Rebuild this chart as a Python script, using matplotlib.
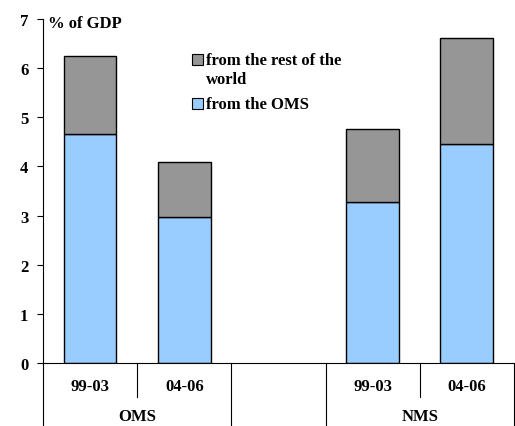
import matplotlib
matplotlib.use("Agg")
import matplotlib.pyplot as plt
from matplotlib.patches import Rectangle

periods = ["99-03", "04-06", "", "99-03", "04-06"]
groups = ["OMS", "NMS"]
from_oms = [4.66, 2.98, None, 3.28, 4.45]
from_rest = [1.59, 1.10, None, 1.48, 2.17]
yticks = [0, 1, 2, 3, 4, 5, 6, 7]
legend_labels = ["from the rest of the", "world", "from the OMS"]

blue = "#99CCFF"
gray = "#969696"
font = "Liberation Serif"
plt.rcParams["font.family"] = [font, "DejaVu Serif"]
plt.rcParams["font.weight"] = "bold"
fs = 12

fig = plt.figure(figsize=(5.15, 4.27), dpi=100)
ax = fig.add_axes([43 / 515, 1 - 364 / 427, 1 - 43 / 515 - 0.002, (364 - 20) / 427])

xs = [i for i, v in enumerate(from_oms) if v is not None]
b1 = [from_oms[i] for i in xs]
b2 = [from_rest[i] for i in xs]
ax.bar(xs, b1, width=0.56, color=blue, edgecolor="black", linewidth=1.0)
ax.bar(xs, b2, bottom=b1, width=0.56, color=gray, edgecolor="black", linewidth=1.0)

ax.set_xlim(-0.5, len(periods) - 0.5)
ax.set_ylim(0, 7)
ax.set_yticks(yticks)
ax.set_yticklabels([str(t) for t in yticks], fontsize=fs, fontweight="bold")
ax.tick_params(axis="y", direction="out", length=4, width=0.8, pad=6.5)
ax.set_xticks([])
for s in ["top", "right"]:
    ax.spines[s].set_visible(False)
ax.spines["left"].set_linewidth(0.8)
ax.spines["bottom"].set_linewidth(0.8)

# category table below axis
tr = ax.get_xaxis_transform()
for i, p in enumerate(periods):
    if p:
        ax.text(i, -0.067, p, transform=tr, ha="center", va="center",
                fontsize=fs, fontweight="bold")
group_pos = [0.5, 3.5]
for g, xp in zip(groups, group_pos):
    ax.text(xp, -0.155, g, transform=tr, ha="center", va="center",
            fontsize=fs, fontweight="bold")
bounds_long = [-0.5, 1.5, 2.5, 4.5]
bounds_short = [0.5, 3.5]
for b in bounds_long:
    ax.plot([b, b], [0, -0.2], transform=tr, color="black", lw=0.8, clip_on=False)
for b in bounds_short:
    ax.plot([b, b], [0, -0.10], transform=tr, color="black", lw=0.8, clip_on=False)

ax.text(0.011, 0.988, "% of GDP", transform=ax.transAxes, ha="left", va="center",
        fontsize=fs, fontweight="bold")

# legend (drawn manually so the marker sits on the first text line)
mw, mh = 11 / 472, 11 / 344
for col, yc in [(gray, 0.881), (blue, 0.753)]:
    ax.add_patch(Rectangle((0.316, yc - mh / 2), mw, mh, transform=ax.transAxes,
                           facecolor=col, edgecolor="black", linewidth=0.8,
                           clip_on=False))
for lab, yc in zip(legend_labels, [0.881, 0.826, 0.753]):
    ax.text(0.347, yc, lab, transform=ax.transAxes, ha="left", va="center",
            fontsize=fs, fontweight="bold")

fig.savefig("out.png", dpi=100)
